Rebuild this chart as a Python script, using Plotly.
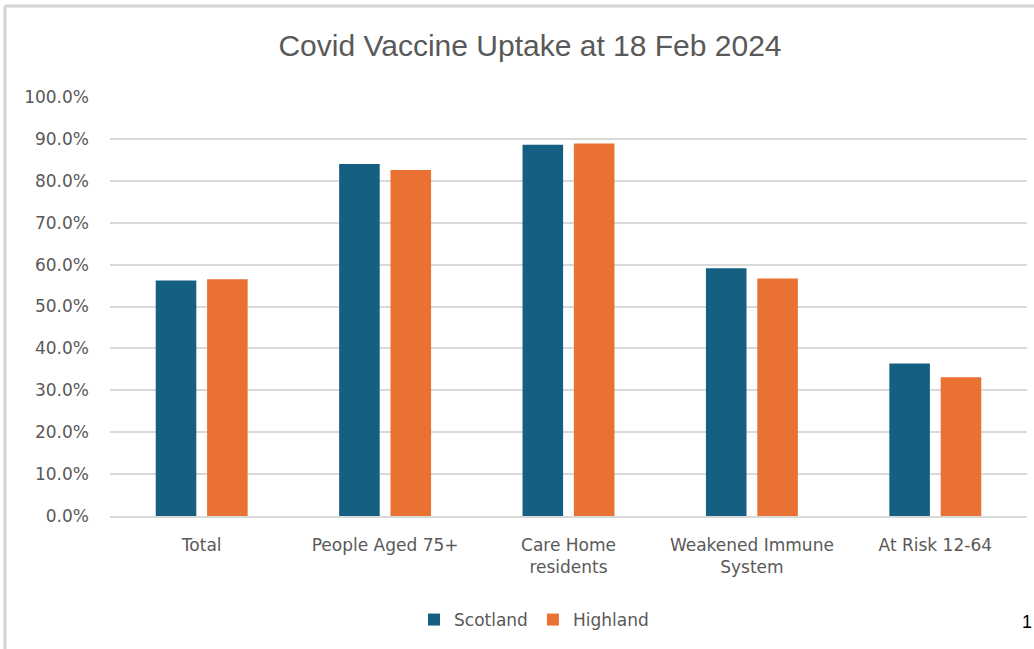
import plotly.graph_objects as go

categories = ["Total", "People Aged 75+", "Care Home<br>residents", "Weakened Immune<br>System", "At Risk 12-64"]
scotland = [0.562, 0.840, 0.886, 0.591, 0.364]
highland = [0.565, 0.826, 0.889, 0.567, 0.331]
y_ticks = [0, 0.1, 0.2, 0.3, 0.4, 0.5, 0.6, 0.7, 0.8, 0.9, 1.0]

W, H = 1034, 649
ml, mr, mt, mb = 110, 7, 97, 133

FONT = "DejaVu Sans, Liberation Sans, sans-serif"
GREY = "#595959"

fig = go.Figure()
fig.add_trace(go.Bar(name="Scotland", x=categories, y=scotland, marker=dict(color="#156082", line=dict(width=0))))
fig.add_trace(go.Bar(name="Highland", x=categories, y=highland, marker=dict(color="#E97132", line=dict(width=0))))

pw = W - ml - mr
ph = H - mt - mb
def px_x(p):
    return (p - ml) / pw
def px_y(p):
    return (H - mb - p) / ph

fig.update_layout(
    width=W, height=H,
    margin=dict(l=ml, r=mr, t=mt, b=mb),
    paper_bgcolor="white", plot_bgcolor="white",
    barmode="group", bargap=0.44, bargroupgap=0.21,
    title=dict(text="Covid Vaccine Uptake at 18 Feb 2024", x=530 / W, xref="container", xanchor="center",
               y=1 - 45 / H, yref="container", yanchor="middle",
               font=dict(family="Liberation Sans, Arial, sans-serif", size=30, color=GREY)),
    font=dict(family=FONT, color=GREY),
    showlegend=True,
    legend=dict(orientation="h", x=534 / W, xref="container", xanchor="center",
                y=1 - 620 / H, yref="container", yanchor="middle",
                font=dict(family=FONT, size=17, color=GREY), itemwidth=30, traceorder="normal"),
    xaxis=dict(showgrid=False, showline=True, linecolor="#d9d9d9", linewidth=1.5,
               tickfont=dict(family=FONT, size=17, color=GREY), ticks="", ticklabelstandoff=13),
    yaxis=dict(range=[0, 1.0], tickvals=y_ticks, tickformat=".1%", showgrid=True, gridcolor="#d9d9d9", gridwidth=1.5,
               zeroline=False, showline=False, ticks="", ticklabelstandoff=20,
               tickfont=dict(family=FONT, size=17, color=GREY)),
    shapes=[
        dict(type="line", xref="paper", yref="paper", x0=px_x(5), x1=px_x(5), y0=px_y(6), y1=px_y(H + 10),
             line=dict(color="#d4d4d4", width=3)),
        dict(type="line", xref="paper", yref="paper", x0=px_x(5), x1=px_x(W + 10), y0=px_y(6), y1=px_y(6),
             line=dict(color="#d4d4d4", width=3)),
    ],
    annotations=[
        dict(text="1", xref="paper", yref="paper", x=px_x(1034), y=px_y(622), xanchor="right", yanchor="middle",
             showarrow=False, font=dict(family="Liberation Sans, Arial, sans-serif", size=18, color="black")),
    ],
)

fig.write_html("out.html")
